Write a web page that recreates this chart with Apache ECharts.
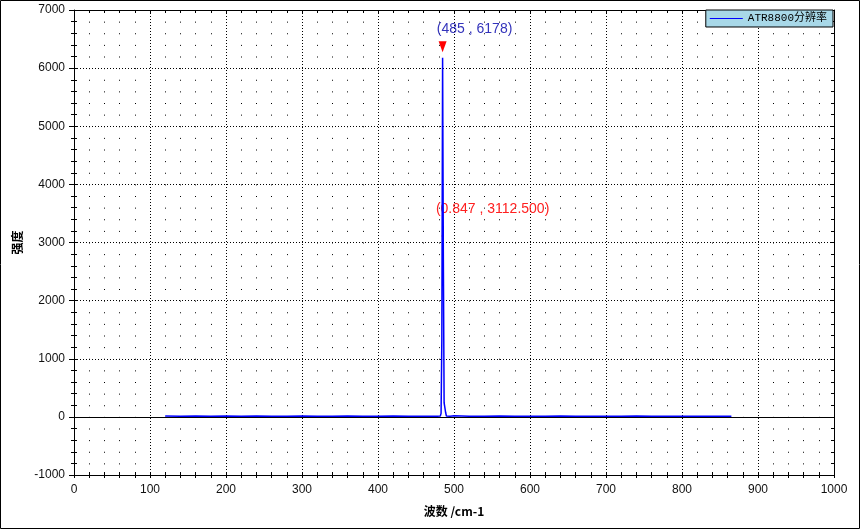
<!DOCTYPE html>
<html><head><meta charset="utf-8">
<script src="https://cdn.jsdelivr.net/npm/echarts@6/dist/echarts.min.js"></script>
<style>html,body{margin:0;padding:0;background:#fff}#c{width:860px;height:529px}</style>
</head><body><div id="c"></div>
<script>
// ---- data ----
const seriesName = 'ATR8800分辨率';
const wavenumbers = [120,140,160,180,200,220,240,260,280,300,320,340,360,380,400,420,440,460,470,478,480,482,483,484,485,486,487,488,489,490,495,500,520,540,560,580,600,620,640,660,680,700,720,740,760,780,796,797,798,820,840,865];
const intensity   = [15,12,14,10,13,11,14,12,10,13,12,11,14,12,10,13,12,11,12,10,15,15,60,1340,6178,2700,240,230,75,15,12,18,12,10,13,11,12,10,13,12,11,10,12,13,11,12,10,-15,10,12,11,12];
const xTicks = {min:0, max:1000, interval:100};
const yTicks = {min:-1000, max:7000, interval:1000};
const peakPoint = [485, 6178];
const peakLabel = '(485 , 6178)';
const cursorPoint = [485, 3112.5];
const cursorLabel = '(0.847 , 3112.500)';
const xName = '波数 /cm-1';
const yName = '强度';

const data = wavenumbers.map((x,i)=>[x,intensity[i]]);
const chart = echarts.init(document.getElementById('c'));
const black = '#000';
const lblFont = {color:'#111', fontSize:12, fontFamily:'Liberation Sans, Arial, sans-serif', formatter:(v)=>String(v)};
const dotted = {color:black, width:1, type:[1,2]};
function baseX(extra){return Object.assign({type:'value', min:xTicks.min, max:xTicks.max, interval:xTicks.interval, gridIndex:0}, extra);}
function baseY(extra){return Object.assign({type:'value', min:yTicks.min, max:yTicks.max, interval:yTicks.interval, gridIndex:0}, extra);}
chart.setOption({
  animation:false,
  backgroundColor:'#fff',
  grid:{left:74, right:26, top:10, bottom:54, containLabel:false},
  graphic:[{type:'rect', shape:{x:0.5,y:0.5,width:859,height:528}, style:{fill:null, stroke:'#000', lineWidth:1}, silent:true, z:100}],
  legend:{
    show:true, right:27, top:10, orient:'horizontal',
    backgroundColor:'#a8d8e8', borderColor:'#000', borderWidth:1, borderRadius:0,
    padding:[3,6,3,4], itemWidth:33, itemHeight:1, itemGap:4,
    icon:'rect',
    textStyle:{color:'#000', fontSize:11, fontFamily:'Liberation Mono, "Noto Sans CJK SC", monospace'},
    data:[seriesName]
  },
  xAxis:[
    baseX({position:'bottom',
      axisLine:{show:true, onZero:false, lineStyle:{color:black,width:1}},
      axisTick:{show:true, inside:false, length:3, lineStyle:{color:black}},
      minorTick:{show:true, splitNumber:5, length:3, lineStyle:{color:black}},
      axisLabel:Object.assign({margin:9}, lblFont),
      splitLine:{show:true, lineStyle:dotted},
      minorSplitLine:{show:true, lineStyle:{color:black, width:1, type:[1,10.625]}},
      name:xName, nameLocation:'middle', nameGap:30,
      nameTextStyle:{color:'#000', fontSize:12, fontWeight:'bold', fontFamily:'"Noto Sans CJK SC", sans-serif'}
    }),
    baseX({position:'top',
      axisLine:{show:true, onZero:false, lineStyle:{color:black,width:1}},
      axisTick:{show:true, inside:true, length:3, lineStyle:{color:black}},
      minorTick:{show:true, splitNumber:5, length:3, lineStyle:{color:black}},
      axisLabel:{show:false}, splitLine:{show:false}
    }),
    baseX({position:'bottom', offset:0,
      axisLine:{show:false, onZero:false},
      axisTick:{show:true, inside:true, length:3, lineStyle:{color:black}},
      minorTick:{show:true, splitNumber:5, length:3, lineStyle:{color:black}},
      axisLabel:{show:false}, splitLine:{show:false}
    })
  ],
  yAxis:[
    baseY({position:'left',
      axisLine:{show:true, onZero:false, lineStyle:{color:black,width:1}},
      axisTick:{show:true, inside:false, length:5, lineStyle:{color:black}},
      minorTick:{show:true, splitNumber:5, length:3, lineStyle:{color:black}},
      axisLabel:Object.assign({margin:9}, lblFont),
      splitLine:{show:true, lineStyle:dotted},
      name:yName, nameLocation:'middle', nameGap:47, nameRotate:90,
      nameTextStyle:{color:'#000', fontSize:12, fontWeight:'bold', fontFamily:'"Noto Sans CJK SC", sans-serif'}
    }),
    baseY({position:'right',
      axisLine:{show:true, onZero:false, lineStyle:{color:black,width:1}},
      axisTick:{show:true, inside:true, length:3, lineStyle:{color:black}},
      minorTick:{show:true, splitNumber:5, length:3, lineStyle:{color:black}},
      axisLabel:{show:false}, splitLine:{show:false}
    }),
    baseY({position:'left', offset:0,
      axisLine:{show:false, onZero:false},
      axisTick:{show:true, inside:true, length:3, lineStyle:{color:black}},
      minorTick:{show:true, splitNumber:5, length:3, lineStyle:{color:black}},
      axisLabel:{show:false}, splitLine:{show:false}
    })
  ],
  series:[{
    name:seriesName, type:'line', xAxisIndex:0, yAxisIndex:0,
    data:data, showSymbol:false, symbol:'none',
    lineStyle:{color:'#0000ff', width:1.5}, itemStyle:{color:'#0000ff'},
    z:5,
    markLine:{silent:true, symbol:'none', label:{show:false},
      lineStyle:{color:black, width:1, type:'solid'},
      data:[{yAxis:0}], z:3},
    markPoint:{silent:true, data:[
      {coord:peakPoint, symbol:'triangle', symbolRotate:180, symbolSize:[8,11], symbolOffset:[0,-11],
       itemStyle:{color:'#ff0000'},
       label:{show:true, position:'top', distance:5, offset:[32,0], formatter:peakLabel,
         color:'#3333bb', fontSize:14, fontFamily:'Liberation Sans, Arial, sans-serif'}},
      {coord:cursorPoint, symbol:'circle', symbolSize:2,
       itemStyle:{color:'#ff0000'},
       label:{show:true, position:'top', distance:5, offset:[50,-14], formatter:cursorLabel,
         color:'#ff2020', fontSize:14, fontFamily:'Liberation Sans, Arial, sans-serif'}}
    ]}
  }]
});
</script></body></html>
